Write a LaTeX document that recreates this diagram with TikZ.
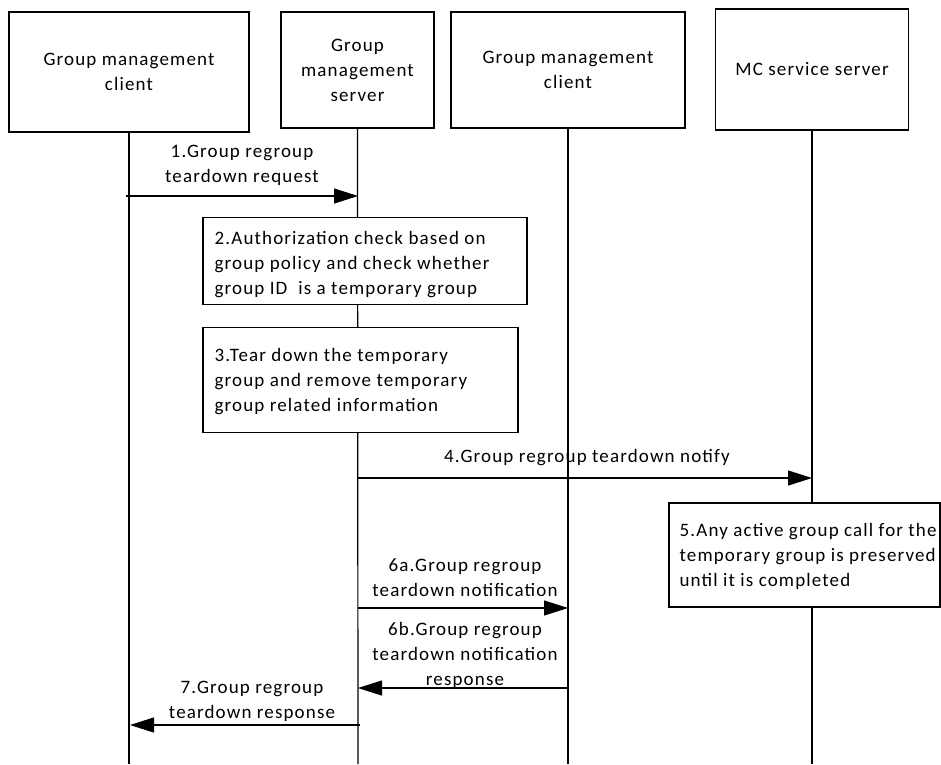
\documentclass[tikz,border=0pt]{standalone}
\usepackage{fontspec}
\setmainfont{Carlito}[LetterSpace=6]
\usetikzlibrary{arrows.meta}
\tikzset{
  base/.style={font=\fontsize{19}{25}\selectfont},
  actor/.style={base,draw,line width=1.2pt,align=center,inner sep=0pt},
  stepbox/.style={draw,fill=white,line width=1.2pt,inner sep=0pt},
  steptext/.style={base,align=left,inner sep=0pt,anchor=west},
  life/.style={line width=1.2pt},
  msg/.style={line width=1.2pt,-{Triangle[length=24pt,width=15pt]}},
  lbl/.style={base,align=center,inner sep=0pt}
}
\begin{document}
\begin{tikzpicture}[x=1pt,y=-1pt]
\useasboundingbox (0,0) rectangle (941,764);
% actors
\node[actor,minimum width=240pt,minimum height=120pt] (A) at (129,72) {Group management\\client};
\node[actor,minimum width=153pt,minimum height=116pt] (B) at (357.5,70) {Group\\management\\server};
\node[actor,minimum width=234pt,minimum height=116pt] (C) at (568,70) {Group management\\client};
\node[actor,minimum width=193pt,minimum height=121pt] (D) at (812,69.5) {MC service server};
% lifeline ends
\coordinate (Ab) at (129,764);
\coordinate (Bb) at (358,764);
\coordinate (Cb) at (568,764);
\coordinate (Db) at (812,764);
\draw[life] (A.south) -- (Ab);
\draw[life] (B.south) -- (Bb);
\draw[life] (C.south) -- (Cb);
\draw[life] (D.south) -- (Db);
% step boxes
\node[stepbox,minimum width=324pt,minimum height=87pt] (S2) at (365,261) {};
\node[steptext] (T2) at ([xshift=12pt,yshift=-4pt]S2.west) {2.Authorization check based on\\group policy and check whether\\group ID\ \ is a temporary group};
\node[stepbox,minimum width=315pt,minimum height=105pt] (S3) at (360.5,380) {};
\node[steptext] (T3) at ([xshift=12pt,yshift=-2pt]S3.west) {3.Tear down the temporary\\group and remove temporary\\group related information};
\node[stepbox,minimum width=271pt,minimum height=104pt] (S5) at (804.5,555) {};
\node[steptext] (T5) at ([xshift=11pt,yshift=-1pt]S5.west) {5.Any active group call for the\\temporary group is preserved\\until it is completed};
% messages
\coordinate (m1s) at (126,196); \coordinate (m1e) at (358,196);
\draw[msg] (m1s) -- (m1e);
\node[lbl] (L1) at (242,165) {1.Group regroup\\teardown request};
\coordinate (m4s) at (358,478); \coordinate (m4e) at (812,478);
\draw[msg] (m4s) -- (m4e);
\node[lbl] (L4) at (587,458) {4.Group regroup teardown notify};
\coordinate (m6as) at (358,608); \coordinate (m6ae) at (568,608);
\draw[msg] (m6as) -- (m6ae);
\node[lbl] (L6a) at (465,578) {6a.Group regroup\\teardown notification};
\coordinate (m6bs) at (568,688); \coordinate (m6be) at (358,688);
\draw[msg] (m6bs) -- (m6be);
\node[lbl] (L6b) at (465,655) {6b.Group regroup\\teardown notification\\response};
\coordinate (m7s) at (360,725); \coordinate (m7e) at (130,725);
\draw[msg] (m7s) -- (m7e);
\node[lbl] (L7) at (252,701) {7.Group regroup\\teardown response};
\end{tikzpicture}
\end{document}
